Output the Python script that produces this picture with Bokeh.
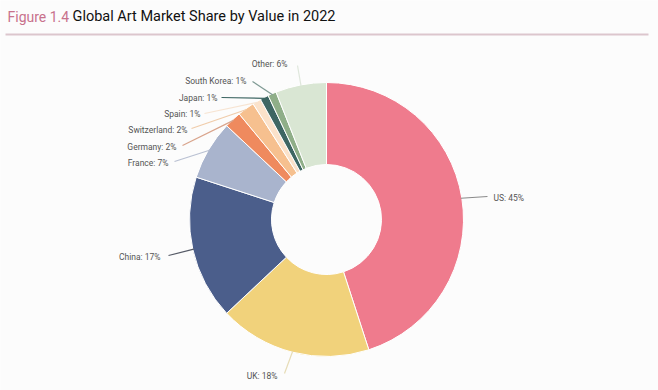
import math
from bokeh.plotting import figure
from bokeh.models import Range1d, ColumnDataSource
from bokeh.core.properties import value
from bokeh.embed import file_html
from bokeh.resources import INLINE

# ---- data ----
countries = ["US", "UK", "China", "France", "Germany", "Switzerland", "Spain", "Japan", "South Korea", "Other"]
shares = [45, 18, 17, 7, 2, 2, 1, 1, 1, 6]
colors = ["#ef7b8d", "#f1d27b", "#4b5e8b", "#a9b4cd", "#ef8a5e", "#f6c08f", "#fbe2ca", "#3e6663", "#8fae88", "#d9e6d3"]
line_colors = ["#8a8a8a", "#e6dcb6", "#555a66", "#b9c0d2", "#d9a48c", "#f0ccaa", "#f7e4d2", "#3e6663", "#7f9a94", "#dfe7dc"]

# ---- layout (pixel positions of label anchors, image coords) ----
label_x = [493, 277, 160, 168, 176, 187, 200, 217, 246, 287]
label_y = [197, 375, 256, 162, 146, 129, 113, 97, 80, 63]
label_align = ["left", "right", "right", "right", "right", "right", "right", "right", "right", "right"]
line_end = [(487, 196), (284, 373), (168, 255), (174, 161), (182, 145), (191, 128), (204, 113), (221, 97), (252, 81), (297, 65)]

W, H = 658, 390
def Y(y):
    return H - y

cx, cy = 326, 219
r_out, r_in = 137, 55

p = figure(width=W, height=H, x_range=Range1d(0, W), y_range=Range1d(0, H),
           output_backend="svg", toolbar_location=None, min_border=0)
p.axis.visible = False
p.grid.visible = False
p.outline_line_color = None
p.background_fill_color = "#fcfcfc"
p.border_fill_color = "#fcfcfc"

total = sum(shares)
starts, ends, mids = [], [], []
cum = 0
for s in shares:
    a0 = math.pi / 2 - 2 * math.pi * (cum + s) / total
    a1 = math.pi / 2 - 2 * math.pi * cum / total
    starts.append(a0)
    ends.append(a1)
    mids.append((a0 + a1) / 2)
    cum += s

src = ColumnDataSource(dict(start=starts, end=ends, color=colors))
p.annular_wedge(x=cx, y=Y(cy), inner_radius=r_in, outer_radius=r_out,
                start_angle="start", end_angle="end", fill_color="color",
                line_color="#ffffff", line_width=1, source=src)

# leader lines
for i, m in enumerate(mids):
    x0 = cx + (r_out - 1) * math.cos(m)
    y0 = Y(cy) + (r_out - 1) * math.sin(m)
    ex, ey = line_end[i]
    p.line([x0, ex], [y0, Y(ey)], line_color=line_colors[i], line_width=1.2)

# labels
labels = [f"{c}: {s}%" for c, s in zip(countries, shares)]
lsrc = ColumnDataSource(dict(x=label_x, y=[Y(v) for v in label_y], text=labels, align=label_align))
p.text(x="x", y="y", text="text", text_align="align", text_baseline="middle",
       text_font=value("Roboto"), text_font_size="8.5px",
       text_color="#555555", source=lsrc)

# title
p.text(x=[7], y=[Y(16)], text=["Figure 1.4"], text_font=value("Roboto"), text_font_size="14px",
       text_color="#c8728c", text_baseline="alphabetic")
p.text(x=[72], y=[Y(16)], text=["Global Art Market Share by Value in 2022"], text_font=value("Roboto"),
       text_font_size="14.5px", text_color="#111111", text_baseline="alphabetic")

# separator
p.line([5, 648], [Y(34), Y(34)], line_color="#dcc6cd", line_width=2)

open("out.html", "w").write(file_html(p, INLINE))
